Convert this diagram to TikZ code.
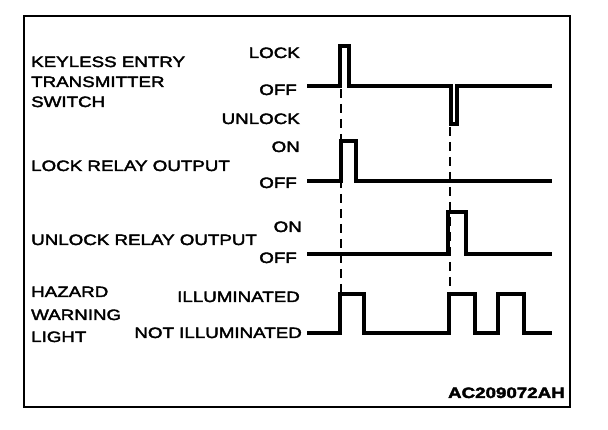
\documentclass[tikz,border=0pt]{standalone}
\usepackage{fontspec}
\setmainfont{Liberation Sans}[FakeStretch=1.25,FakeBold=2.5]
\begin{document}
\begin{tikzpicture}[x=1pt,y=-1pt,
  lbl/.style={inner sep=0pt, font=\fontsize{15}{18}\selectfont},
  lw/.style={lbl, anchor=base west},
  le/.style={lbl, anchor=base east},
  sig/.style={line width=4pt, line join=miter},
  guide/.style={line width=1.2pt, dash pattern=on 9pt off 6pt}]
\useasboundingbox (0,0) rectangle (608,430);
\draw[line width=2pt] (24,16) rectangle (570,407);
% signals
\draw[sig] (307,86) -- (340,86) -- (340,46) -- (349,46) -- (349,86) -- (451,86) -- (451,124) -- (457,124) -- (457,86) -- (552,86);
\draw[sig] (307,181) -- (341,181) -- (341,141) -- (356,141) -- (356,181) -- (552,181);
\draw[sig] (307,254) -- (448,254) -- (448,212) -- (466,212) -- (466,254) -- (552,254);
\draw[sig] (307,333) -- (340,333) -- (340,294) -- (364,294) -- (364,333) -- (449,333) -- (449,294) -- (475,294) -- (475,333) -- (498,333) -- (498,294) -- (524,294) -- (524,333) -- (552,333);
% guides
\coordinate (g1a) at (341,89);
\coordinate (g1b) at (341,292);
\coordinate (g2a) at (450,127);
\coordinate (g2b) at (450,292);
\draw[guide] (g1a) -- (g1b);
\draw[guide] (g2a) -- (g2b);
% left labels
\node[lw] (k1) at (31,67) {KEYLESS ENTRY};
\node[lw] (k2) at (31,87) {TRANSMITTER};
\node[lw] (k3) at (31,107) {SWITCH};
\node[lw] (lr) at (31,171) {LOCK RELAY OUTPUT};
\node[lw] (ur) at (31,245) {UNLOCK RELAY OUTPUT};
\node[lw] (h1) at (31,297) {HAZARD};
\node[lw] (h2) at (31,320) {WARNING};
\node[lw] (h3) at (31,342) {LIGHT};
% state labels
\node[le] (s1) at (300,58) {LOCK};
\node[le] (s2) at (297,95) {OFF};
\node[le] (s3) at (300,124) {UNLOCK};
\node[le] (s4) at (300,152) {ON};
\node[le] (s5) at (297,188) {OFF};
\node[le] (s6) at (302,232) {ON};
\node[le] (s7) at (297,263) {OFF};
\node[le] (s8) at (300,302) {ILLUMINATED};
\node[le] (s9) at (302,338) {NOT ILLUMINATED};
\node[le, font=\fontsize{15}{18}\selectfont\bfseries] (code) at (565,398) {AC209072AH};
\end{tikzpicture}
\end{document}
